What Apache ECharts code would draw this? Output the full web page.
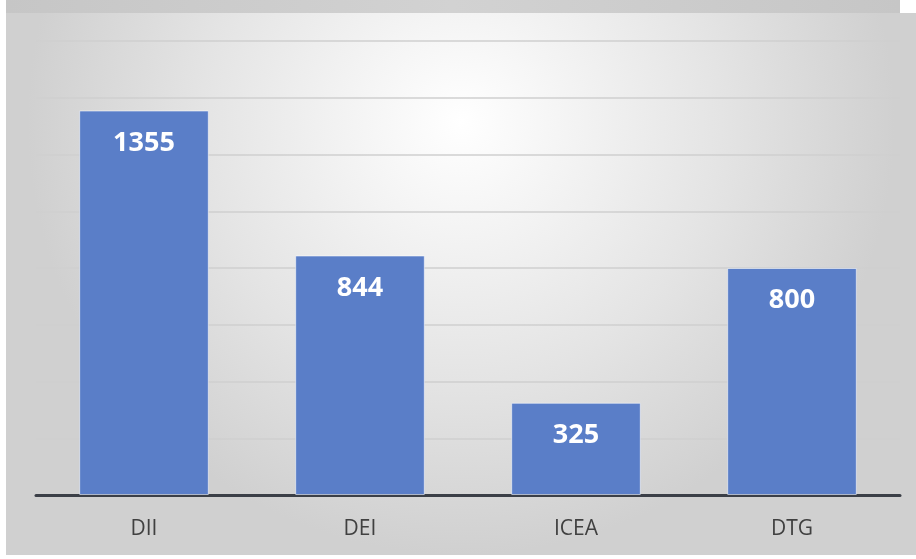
<!DOCTYPE html>
<html>
<head>
<meta charset="utf-8">
<style>html,body{margin:0;padding:0;background:#fff;}#c{width:916px;height:559px;}</style>
<script src="https://cdn.jsdelivr.net/npm/echarts@6/dist/echarts.min.js"></script>
</head>
<body>
<div id="c"></div>
<script>
var categories = ['DII', 'DEI', 'ICEA', 'DTG'];
var values = [1355, 844, 325, 800];
var yMax = 1600;
var yInterval = 200;

var chart = echarts.init(document.getElementById('c'), null, {renderer: 'canvas'});
chart.setOption({
  animation: false,
  graphic: [
    {type: 'rect', z: -10, shape: {x: 6, y: 13, width: 910, height: 542},
     style: {fill: new echarts.graphic.RadialGradient(0.5, 0.2, 0.8, [
       {offset: 0, color: '#ffffff'}, {offset: 0.6, color: '#e4e4e4'}, {offset: 1, color: '#d0d0d0'}])}},
    {type: 'rect', z: -10, shape: {x: 6, y: 0, width: 894, height: 13},
     style: {fill: new echarts.graphic.LinearGradient(0, 0, 1, 0, [
       {offset: 0, color: '#c6c6c6'}, {offset: 0.5, color: '#d2d2d2'}, {offset: 1, color: '#c6c6c6'}])}}
  ],
  grid: {left: 36, right: 16, top: 41, bottom: 64, containLabel: false},
  xAxis: {
    type: 'category',
    data: categories,
    axisLine: {show: true, lineStyle: {color: '#3b3f47', width: 3}},
    axisTick: {show: false},
    axisLabel: {color: '#404040', fontSize: 21, fontFamily: 'Open Sans', margin: 24}
  },
  yAxis: {
    type: 'value',
    min: 0, max: yMax, interval: yInterval,
    axisLine: {show: false}, axisTick: {show: false}, axisLabel: {show: false},
    splitLine: {lineStyle: {color: '#cfcfcf', width: 1.5}}
  },
  series: [{
    type: 'bar',
    data: values,
    barWidth: '60%',
    itemStyle: {color: '#5a7ec8', borderColor: 'rgba(255,255,255,0.55)', borderWidth: 1},
    label: {
      show: true, position: 'insideTop', distance: 19,
      color: '#ffffff', fontSize: 27, fontWeight: 'bold', fontFamily: 'Open Sans'
    }
  }]
});
</script>
</body>
</html>
